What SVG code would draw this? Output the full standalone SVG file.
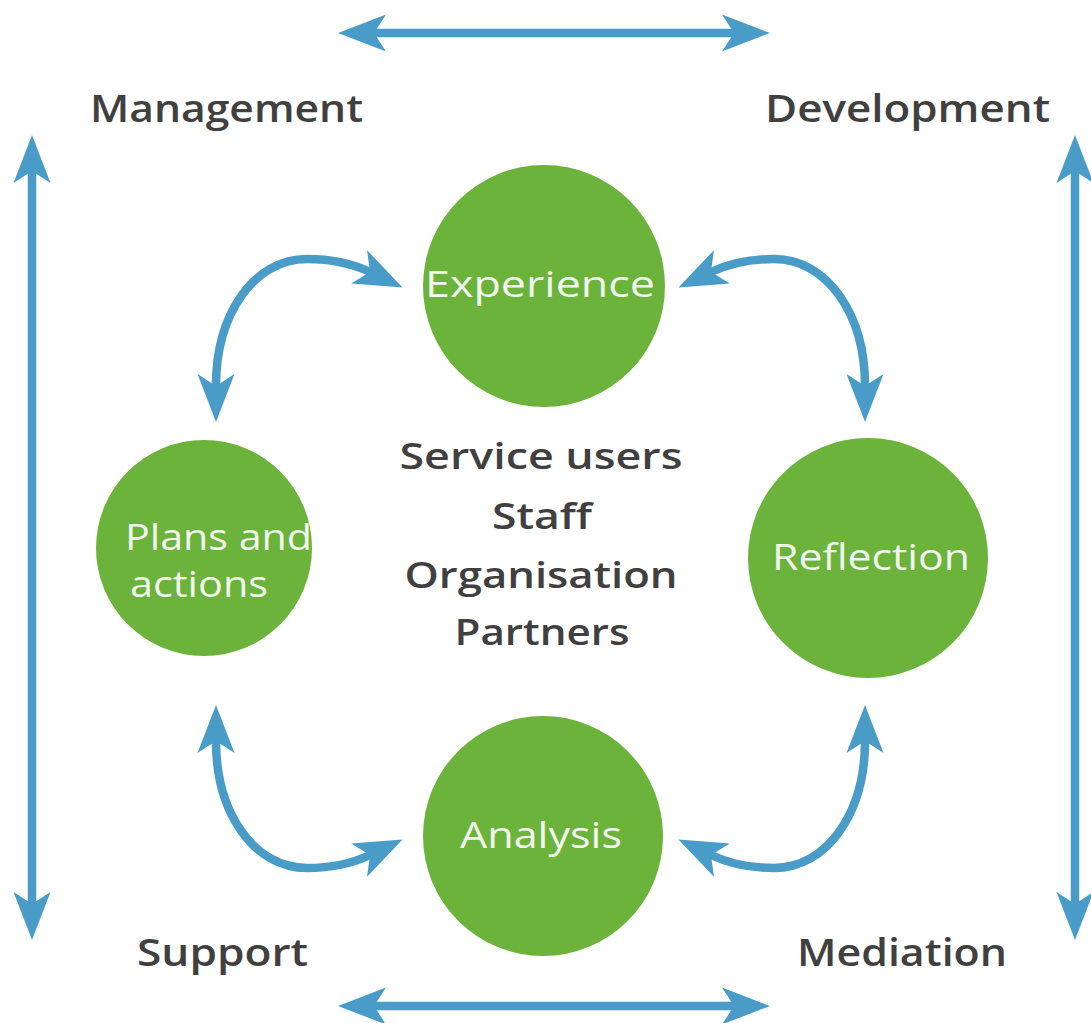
<svg xmlns="http://www.w3.org/2000/svg" width="1091" height="1023" viewBox="0 0 1091 1023">
  <style>
    .conn { fill: none; stroke: #489cc7; stroke-width: 8.5; stroke-linecap: butt; }
    .node { fill: #6cb33c; }
    .ntxt { font-family: "Open Sans", "Liberation Sans", sans-serif; font-size: 36px; fill: #f2f7ee; font-weight: 400; }
    .lbl { font-family: "Open Sans", "Liberation Sans", sans-serif; font-size: 38px; fill: #404040; font-weight: 600; }
    .ctr { font-family: "Open Sans", "Liberation Sans", sans-serif; font-size: 36px; fill: #404040; font-weight: 600; text-anchor: middle; }
  </style>
  <defs>
    <marker id="ah" viewBox="-14 -20 52 40" refX="0" refY="0" markerWidth="52" markerHeight="40" markerUnits="userSpaceOnUse" orient="auto-start-reverse">
      <path d="M36,0 L-12,-18.5 L0,0 L-12,18.5 Z" fill="#489cc7"/>
    </marker>
  </defs>
  <rect width="1091" height="1023" fill="#ffffff"/>

  <g id="connectors">
    <path class="conn" d="M374,33 L734,33" marker-start="url(#ah)" marker-end="url(#ah)"/>
    <path class="conn" d="M374,1006 L734,1006" marker-start="url(#ah)" marker-end="url(#ah)"/>
    <path class="conn" d="M32,171 L32,904" marker-start="url(#ah)" marker-end="url(#ah)"/>
    <path class="conn" d="M1075,171 L1075,904" marker-start="url(#ah)" marker-end="url(#ah)"/>
    <g id="arc-tl">
      <path class="conn" d="M216,386 C216,314 254,259 307,259 C328,259 351,263 370,272" marker-start="url(#ah)" marker-end="url(#ah)"/>
    </g>
    <g id="arc-tr" transform="translate(1081,0) scale(-1,1)">
      <path class="conn" d="M216,386 C216,314 254,259 307,259 C328,259 351,263 370,272" marker-start="url(#ah)" marker-end="url(#ah)"/>
    </g>
    <g id="arc-bl" transform="translate(0,1127) scale(1,-1)">
      <path class="conn" d="M216,386 C216,314 254,259 307,259 C328,259 351,263 370,272" marker-start="url(#ah)" marker-end="url(#ah)"/>
    </g>
    <g id="arc-br" transform="translate(1081,1127) scale(-1,-1)">
      <path class="conn" d="M216,386 C216,314 254,259 307,259 C328,259 351,263 370,272" marker-start="url(#ah)" marker-end="url(#ah)"/>
    </g>
  </g>

  <g id="experience">
    <circle class="node" cx="544" cy="286" r="121"/>
    <text class="ntxt" x="425" y="297" textLength="230" lengthAdjust="spacingAndGlyphs">Experience</text>
  </g>
  <g id="reflection">
    <circle class="node" cx="868" cy="558" r="120"/>
    <text class="ntxt" x="772" y="570" textLength="198" lengthAdjust="spacingAndGlyphs">Reflection</text>
  </g>
  <g id="plans">
    <circle class="node" cx="204" cy="548" r="108"/>
    <text class="ntxt" x="125" y="550" textLength="187" lengthAdjust="spacingAndGlyphs">Plans and</text>
    <text class="ntxt" x="130" y="597" textLength="138" lengthAdjust="spacingAndGlyphs">actions</text>
  </g>
  <g id="analysis">
    <circle class="node" cx="543" cy="836" r="120"/>
    <text class="ntxt" x="460" y="848" textLength="162" lengthAdjust="spacingAndGlyphs">Analysis</text>
  </g>

  <g id="center-labels">
    <text class="ctr" x="541" y="469" textLength="283" lengthAdjust="spacingAndGlyphs">Service users</text>
    <text class="ctr" x="542" y="529" textLength="100" lengthAdjust="spacingAndGlyphs">Staff</text>
    <text class="ctr" x="541" y="588" textLength="273" lengthAdjust="spacingAndGlyphs">Organisation</text>
    <text class="ctr" x="542" y="645" textLength="175" lengthAdjust="spacingAndGlyphs">Partners</text>
  </g>

  <g id="management"><text class="lbl" x="90" y="122" textLength="273" lengthAdjust="spacingAndGlyphs">Management</text></g>
  <g id="development"><text class="lbl" x="765" y="122" textLength="285" lengthAdjust="spacingAndGlyphs">Development</text></g>
  <g id="support"><text class="lbl" x="137" y="966" textLength="171" lengthAdjust="spacingAndGlyphs">Support</text></g>
  <g id="mediation"><text class="lbl" x="797" y="966" textLength="210" lengthAdjust="spacingAndGlyphs">Mediation</text></g>
</svg>
